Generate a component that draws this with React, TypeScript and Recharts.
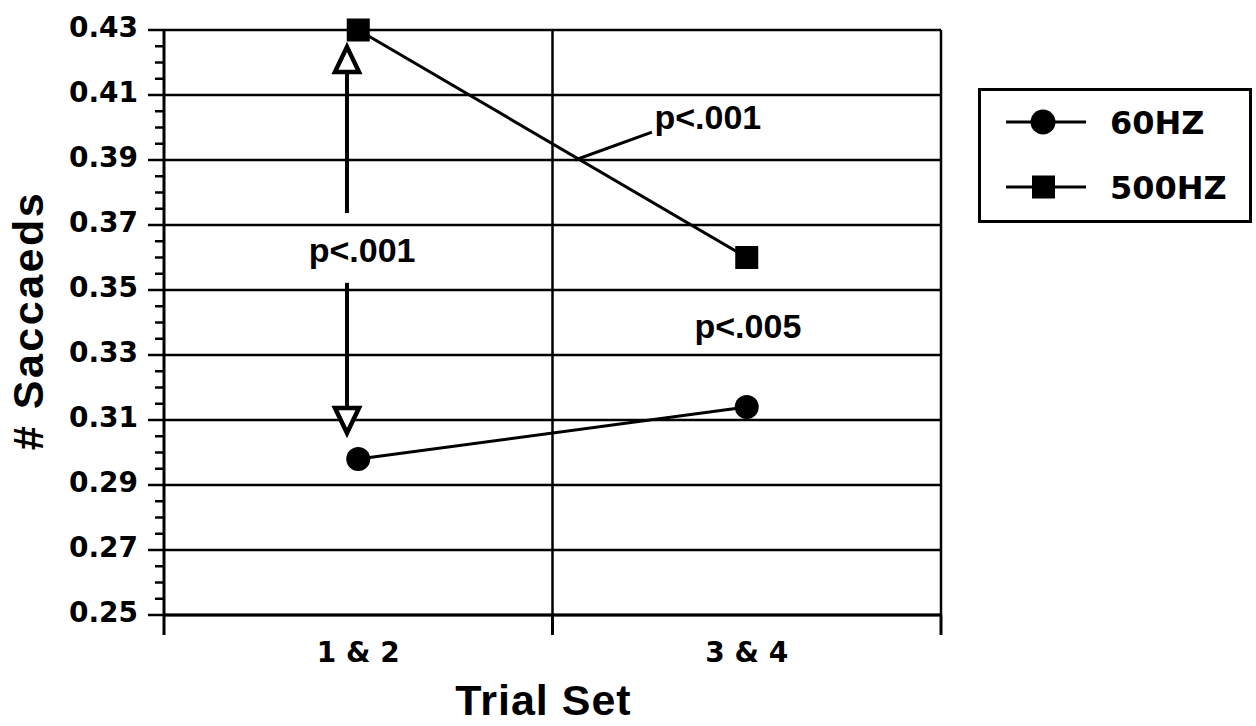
import { LineChart, Line, XAxis, YAxis, CartesianGrid, Legend, ReferenceLine, ReferenceDot } from 'recharts'

const trialSets = ['1 & 2', '3 & 4']
const hz60 = [0.298, 0.314]
const hz500 = [0.43, 0.36]
const yMajorTicks = [0.25, 0.27, 0.29, 0.31, 0.33, 0.35, 0.37, 0.39, 0.41, 0.43]
const xTicks = [0, 0.5, 1, 1.5, 2]
const xGrid = [1, 2]
const legendOrder = ['hz60', 'hz500']

const FONT = '"Liberation Sans", Arial, Helvetica, sans-serif'
const WIDE = '"DejaVu Sans", Verdana, sans-serif'

const data = trialSets.map((name, i) => ({ name, pos: i + 0.5, hz60: hz60[i], hz500: hz500[i] }))

// unlabelled minor ticks every 0.005 between the labelled ones
const yTicks: number[] = []
yMajorTicks.forEach((v, i) => {
  yTicks.push(v)
  if (i < yMajorTicks.length - 1) {
    for (let k = 1; k < 4; k++) yTicks.push(+(v + k * 0.005).toFixed(3))
  }
})

// significance annotations (data coordinates)
const arrowX = 0.471
const upShaft = [0.3737, 0.4171]
const upTip = 0.4248
const downShaft = [0.3522, 0.3137]
const downTip = 0.306
const leader = [{ x: 1.058, y: 0.39 }, { x: 1.256, y: 0.3986 }]
const notes = [
  { text: 'p<.001', x: 0.51, y: 0.3623 },
  { text: 'p<.001', x: 1.4, y: 0.4032 },
  { text: 'p<.005', x: 1.503, y: 0.3389 },
]

function YTick(props: any) {
  const { x, y, payload } = props
  const major = yMajorTicks.includes(payload.value)
  return (
    <g>
      <line x1={x - (major ? 16 : 9)} x2={x} y1={y} y2={y} stroke="#000" strokeWidth={2.5} />
      {major && (
        <text x={x - 26} y={y + 7} textAnchor="end" fontSize={28} fontWeight="bold" fontFamily={WIDE} fill="#000">
          {payload.value.toFixed(2)}
        </text>
      )}
    </g>
  )
}

function XTick(props: any) {
  const { x, y, payload } = props
  const v = payload.value
  if (Number.isInteger(v)) {
    return <line x1={x} x2={x} y1={y} y2={y + 20} stroke="#000" strokeWidth={3} />
  }
  return (
    <text x={x} y={y + 47} textAnchor="middle" fontSize={28} fontWeight="bold" fontFamily={WIDE} fill="#000">
      {trialSets[Math.floor(v)]}
    </text>
  )
}

function SquareDot(props: any) {
  const { cx, cy } = props
  return <rect x={cx - 11.5} y={cy - 11.5} width={23} height={23} fill="#000" />
}

const arrowHead = (dir: 1 | -1) => (props: any) => {
  const { cx, cy } = props
  const b = cy + dir * 25
  return <polygon points={`${cx},${cy} ${cx - 12},${b} ${cx + 12},${b}`} fill="#fff" stroke="#000" strokeWidth={4.5} />
}

const noteShape = (text: string) => (props: any) => (
  <text x={props.cx} y={props.cy + 12} textAnchor="middle" fontSize={34} fontWeight="bold" fontFamily={FONT} fill="#000">
    {text}
  </text>
)

function LegendBox({ payload }: any) {
  const items = legendOrder
    .map((k) => (payload || []).find((p: any) => p.dataKey === k))
    .filter(Boolean)
  return (
    <svg width={274} height={135}>
      <rect x={1.5} y={1.5} width={271} height={132} fill="#fff" stroke="#000" strokeWidth={3} />
      {items.map((p: any, i: number) => {
        const cy = 34 + i * 65
        return (
          <g key={p.value}>
            <line x1={28} x2={108} y1={cy} y2={cy} stroke="#000" strokeWidth={3} />
            {p.dataKey === 'hz60'
              ? <circle cx={65} cy={cy} r={12.5} fill="#000" />
              : <rect x={54} y={cy - 11.5} width={23} height={23} fill="#000" />}
            <text x={132} y={cy + 12} fontSize={32} fontWeight="bold" fontFamily={WIDE} fill="#000">
              {p.value}
            </text>
          </g>
        )
      })}
    </svg>
  )
}

export default function App() {
  return (
    <div style={{ position: 'absolute', left: 0, top: 0, background: '#fff' }}>
      <LineChart width={1256} height={726} data={data} margin={{ top: 30, right: 315, left: 0, bottom: 0 }}>
        <CartesianGrid stroke="#000" strokeWidth={2.5} horizontalValues={yMajorTicks} verticalValues={xGrid} />
        <XAxis
          dataKey="pos" type="number" domain={[0, 2]} ticks={xTicks} interval={0}
          tickSize={0} tickMargin={0} tickLine={false} axisLine={{ stroke: '#000', strokeWidth: 3 }} height={111}
          tick={<XTick />}
          label={(p: any) => {
            const vb = p.viewBox
            return (
              <text x={vb.x + vb.width / 2 - 9} y={715} textAnchor="middle" fontSize={43} fontWeight="bold" letterSpacing={1} fontFamily={FONT} fill="#000">
                Trial Set
              </text>
            )
          }}
        />
        <YAxis
          type="number" domain={[0.25, 0.43]} ticks={yTicks} interval={0}
          tickSize={0} tickMargin={0} tickLine={false} axisLine={{ stroke: '#000', strokeWidth: 3 }} width={164}
          tick={<YTick />}
          label={(p: any) => {
            const vb = p.viewBox
            const cy = vb.y + vb.height / 2 - 2
            return (
              <text x={43} y={cy} transform={`rotate(-90, 43, ${cy})`} textAnchor="middle" fontSize={43} fontWeight="bold" letterSpacing={2.5} fontFamily={FONT} fill="#000">
                # Saccaeds
              </text>
            )
          }}
        />
        <Legend
          layout="vertical" align="center" verticalAlign="middle"
          wrapperStyle={{ left: 978, top: 88, width: 274, height: 135 }}
          content={<LegendBox />}
        />
        <ReferenceLine segment={[{ x: arrowX, y: upShaft[0] }, { x: arrowX, y: upShaft[1] }]} stroke="#000" strokeWidth={4} />
        <ReferenceLine segment={[{ x: arrowX, y: downShaft[0] }, { x: arrowX, y: downShaft[1] }]} stroke="#000" strokeWidth={4} />
        <ReferenceLine segment={leader} stroke="#000" strokeWidth={3} />
        <Line type="linear" dataKey="hz60" name="60HZ" stroke="#000" strokeWidth={3} dot={{ r: 12, fill: '#000', stroke: '#000', strokeWidth: 0 }} isAnimationActive={false} />
        <Line type="linear" dataKey="hz500" name="500HZ" stroke="#000" strokeWidth={3} dot={<SquareDot />} isAnimationActive={false} />
        <ReferenceDot x={arrowX} y={upTip} shape={arrowHead(1)} />
        <ReferenceDot x={arrowX} y={downTip} shape={arrowHead(-1)} />
        {notes.map((n, i) => (
          <ReferenceDot key={i} x={n.x} y={n.y} shape={noteShape(n.text)} />
        ))}
      </LineChart>
    </div>
  )
}
